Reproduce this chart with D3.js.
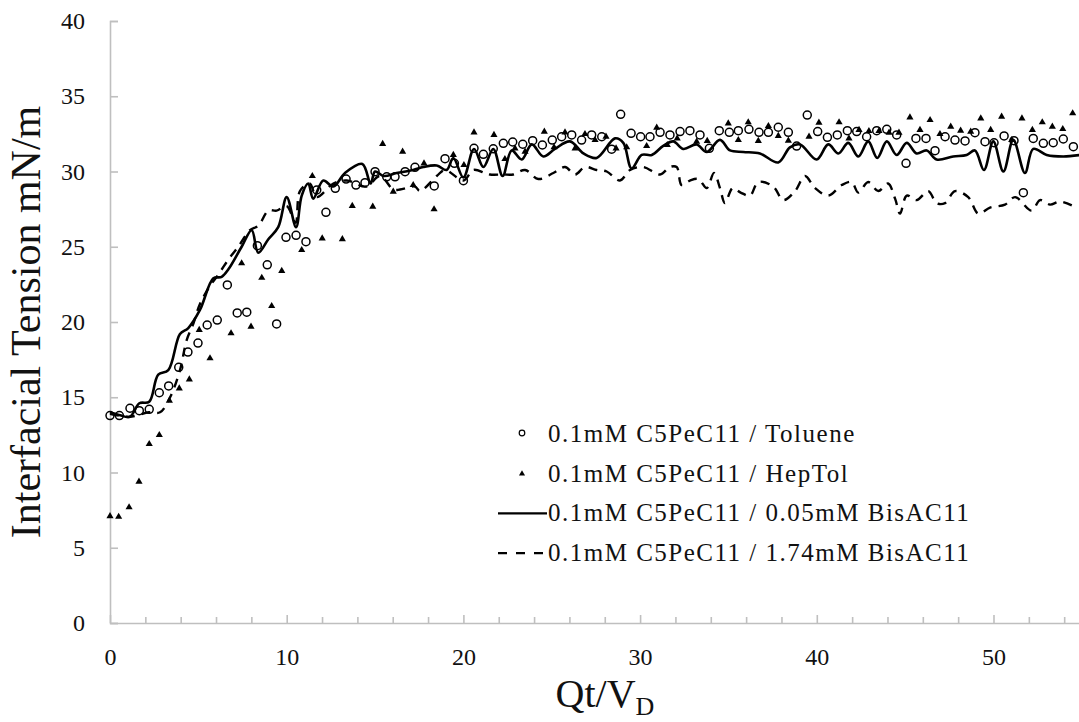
<!DOCTYPE html>
<html>
<head>
<meta charset="utf-8">
<script src="https://cdn.jsdelivr.net/npm/d3@7"></script>
<style>
  html, body { margin: 0; padding: 0; background: #ffffff; }
  #chart { width: 1079px; height: 722px; }
  svg text { font-family: "Liberation Serif", "LiberationSerif", Tinos, "Times New Roman", Times, "Noto Serif", serif; }
</style>
</head>
<body>
<div id="chart"></div>
<script>
'use strict'

// 0.1mM C5PeC11 / Toluene  [Qt/VD, mN/m]
const toluene = [
    [0, 13.78], [0.53, 13.78], [1.13, 14.27], [1.66, 14.11], [2.22, 14.2], [2.79, 15.3], [3.32, 15.75],
    [3.89, 16.99], [4.41, 18.0], [4.98, 18.6], [5.5, 19.8], [6.07, 20.13], [6.64, 22.46], [7.2, 20.6],
    [7.74, 20.65], [8.34, 25.07], [8.9, 23.8], [9.43, 19.87], [9.96, 25.63], [10.53, 25.76], [11.09, 25.34],
    [11.7, 28.77], [12.22, 27.29], [12.75, 28.88], [13.36, 29.5], [13.92, 29.1], [14.43, 29.26], [15.0, 29.99],
    [15.66, 29.65], [16.13, 29.65], [16.7, 29.99], [17.26, 30.28], [18.35, 29.04], [18.96, 30.85], [19.49, 30.54],
    [20.0, 29.39], [20.6, 31.54], [21.13, 31.14], [21.69, 31.51], [22.26, 31.87], [22.79, 31.96], [23.36, 31.81],
    [23.92, 32.05], [24.47, 31.76], [25.03, 32.09], [25.56, 32.31], [26.13, 32.43], [26.69, 32.09], [27.26, 32.43],
    [27.83, 32.31], [28.39, 31.48], [28.9, 33.8], [29.49, 32.54], [30.03, 32.31], [30.56, 32.31], [31.13, 32.6],
    [31.69, 32.43], [32.26, 32.65], [32.82, 32.71], [33.39, 32.43], [33.92, 31.54], [34.48, 32.71], [35.05, 32.6],
    [35.56, 32.71], [36.16, 32.8], [36.73, 32.6], [37.26, 32.6], [37.82, 32.94], [38.39, 32.6], [38.86, 31.69],
    [39.46, 33.75], [40.05, 32.65], [40.6, 32.27], [41.16, 32.43], [41.73, 32.71], [42.26, 32.65], [42.82, 32.31],
    [43.39, 32.71], [43.96, 32.8], [44.52, 32.43], [45.05, 30.54], [45.61, 32.2], [46.18, 32.2], [46.69, 31.38],
    [47.26, 32.31], [47.82, 32.09], [48.39, 32.03], [48.95, 32.58], [49.52, 31.98], [50.03, 31.91], [50.6, 32.36],
    [51.16, 32.05], [51.69, 28.59], [52.25, 32.2], [52.82, 31.87], [53.38, 31.91], [53.95, 32.16], [54.52, 31.65]
]

// 0.1mM C5PeC11 / HepTol
const heptol = [
    [0, 7.1], [0.49, 7.06], [1.08, 7.69], [1.64, 9.39], [2.22, 11.89], [2.79, 12.49], [3.36, 14.77],
    [3.92, 15.59], [4.49, 16.19], [5.05, 19.47], [5.66, 17.59], [6.85, 19.25], [7.45, 23.9], [7.98, 19.69],
    [8.59, 22.94], [9.15, 21.06], [9.72, 23.39], [10.85, 24.78], [11.45, 29.7], [12.01, 25.56], [13.15, 25.5],
    [13.71, 27.71], [14.87, 27.66], [15.43, 31.83], [16.03, 28.66], [16.56, 31.32], [17.16, 29.1], [17.77, 30.54],
    [18.34, 27.49], [19.43, 31.1], [20.03, 30.43], [20.6, 32.6], [21.73, 32.43], [22.35, 30.83], [22.92, 31.54],
    [23.49, 31.32], [24.58, 32.65], [25.13, 31.61], [25.75, 32.6], [26.32, 31.54], [26.88, 32.49], [27.45, 32.09],
    [28.07, 32.31], [28.64, 31.54], [29.24, 31.61], [30.37, 31.69], [30.94, 32.91], [31.54, 31.76], [32.1, 32.2],
    [33.2, 31.98], [33.8, 32.03], [34.99, 33.2], [35.56, 32.09], [36.12, 33.27], [36.69, 32.03], [37.26, 33.02],
    [37.82, 32.36], [38.39, 32.05], [39.56, 32.31], [40.12, 33.24], [41.26, 33.27], [41.82, 32.2], [42.39, 32.76],
    [42.95, 32.69], [43.52, 32.69], [44.09, 32.58], [44.65, 32.58], [45.27, 33.6], [45.84, 32.76], [46.41, 33.42],
    [46.97, 32.49], [47.58, 32.98], [48.14, 32.71], [48.71, 32.65], [49.28, 33.53], [49.84, 32.76], [50.46, 33.64],
    [51.03, 32.09], [51.61, 33.53], [52.2, 32.76], [52.76, 33.27], [53.33, 32.98], [53.92, 32.82], [54.48, 33.87]
]

// 0.1mM C5PeC11 / 0.05mM BisAC11 (solid)
const bis005 = [
    [0, 14.0], [0.57, 13.8], [1.13, 13.7], [1.66, 14.6], [2.22, 14.7], [2.73, 16.5], [3.3, 16.8], [3.96, 19.2],
    [4.43, 19.6], [5.09, 20.8], [5.85, 22.9], [6.32, 23.0], [6.7, 23.5], [7.45, 25.0], [8.02, 26.1], [8.39, 24.6],
    [8.96, 25.5], [9.52, 26.3], [10.0, 28.3], [10.53, 26.3], [10.85, 28.4], [11.22, 29.2], [11.5, 28.2],
    [12.07, 29.4], [12.64, 29.0], [13.3, 29.9], [14.28, 30.5], [14.75, 29.2], [15.0, 30.0], [15.5, 29.7],
    [16.22, 29.9], [17.16, 30.1], [17.73, 30.3], [18.49, 30.4], [19.05, 30.1], [19.43, 30.9], [20.0, 29.6],
    [20.6, 31.5], [21.13, 30.3], [21.69, 31.5], [22.22, 29.7], [22.73, 31.4], [23.3, 30.8], [23.87, 31.8],
    [24.52, 31.0], [25.18, 31.5], [26.03, 32.0], [26.79, 31.2], [27.54, 30.9], [28.58, 32.2], [29.05, 31.9],
    [29.52, 30.2], [30.09, 31.1], [30.66, 31.1], [31.31, 31.7], [31.88, 32.0], [32.45, 31.5], [33.2, 31.8],
    [33.77, 31.3], [34.52, 32.1], [35.09, 31.4], [35.84, 31.3], [36.78, 31.2], [37.82, 30.6], [38.48, 31.6],
    [39.05, 31.8], [39.99, 30.8], [40.65, 31.8], [41.22, 31.2], [41.78, 31.9], [42.35, 31.0], [42.91, 32.0],
    [43.42, 30.9], [43.96, 32.0], [44.52, 31.1], [45.09, 31.9], [45.65, 31.2], [46.22, 31.4], [46.78, 30.8],
    [47.72, 31.0], [48.48, 31.1], [48.95, 31.4], [49.46, 30.1], [49.99, 32.0], [50.56, 30.0], [51.12, 32.1],
    [51.78, 29.9], [52.25, 31.5], [53.01, 31.1], [53.95, 31.0], [54.9, 31.1]
]

// 0.1mM C5PeC11 / 1.74mM BisAC11 (dashed)
const bis174 = [
    [0, 13.9], [1.1, 13.7], [2.2, 14.0], [2.83, 14.0], [3.4, 15.0], [3.96, 16.8], [4.34, 18.8], [4.72, 19.9],
    [5.09, 21.2], [5.66, 22.4], [6.04, 23.0], [6.79, 24.3], [7.26, 25.0], [7.92, 26.1], [8.4, 26.4], [8.96, 27.4],
    [9.43, 27.4], [10.0, 27.7], [10.5, 26.6], [10.75, 28.7], [11.3, 29.2], [11.7, 28.3], [12.64, 29.2],
    [13.4, 29.4], [14.5, 29.0], [15.28, 29.7], [16.03, 28.8], [16.41, 28.8], [17.26, 29.0], [17.54, 28.7],
    [18.49, 29.7], [18.96, 30.1], [20.0, 29.4], [20.56, 30.1], [21.22, 29.9], [21.5, 29.8], [22.26, 29.8],
    [22.82, 29.8], [23.49, 30.1], [24.24, 29.5], [25.09, 29.9], [25.75, 30.3], [26.32, 29.8], [26.88, 30.3],
    [27.54, 30.1], [28.11, 30.0], [28.86, 29.4], [29.43, 30.1], [30.18, 30.3], [31.13, 29.8], [31.69, 30.3],
    [32.07, 30.3], [32.35, 29.1], [32.82, 29.4], [33.3, 29.5], [33.77, 28.9], [34.18, 29.9], [34.52, 28.9],
    [34.8, 27.9], [35.24, 28.9], [35.69, 28.6], [36.22, 28.4], [36.69, 29.3], [37.54, 29.0], [38.1, 28.1],
    [38.77, 28.7], [39.33, 29.7], [39.9, 28.9], [40.65, 28.4], [41.41, 29.1], [41.97, 29.3], [42.35, 28.6],
    [42.91, 29.3], [43.48, 28.7], [44.03, 29.2], [44.43, 28.2], [44.71, 27.2], [45.09, 28.4], [45.65, 28.1],
    [46.31, 28.7], [46.78, 27.9], [47.26, 27.9], [47.82, 28.7], [48.57, 28.3], [49.14, 27.2], [49.8, 27.6],
    [50.65, 27.8], [51.22, 28.3], [52.16, 27.4], [52.63, 28.1], [53.2, 27.8], [53.76, 28.0], [54.52, 27.7]
]

const legend_labels = [
    "0.1mM C5PeC11 / Toluene",
    "0.1mM C5PeC11 / HepTol",
    "0.1mM C5PeC11 / 0.05mM BisAC11",
    "0.1mM C5PeC11 / 1.74mM BisAC11"
]

const x_ticks = d3.range(0, 55, 2)
const x_labels = [0, 10, 20, 30, 40, 50]
const y_ticks = [0, 5, 10, 15, 20, 25, 30, 35, 40]

////////////////////////////////////
//////////// svg setup /////////////
////////////////////////////////////

const svgWidth = 1079
const svgHeight = 722
const axis_color = '#bfbfbf'

const svg = d3.select('#chart')
    .append('svg')
    .attr('width', svgWidth)
    .attr('height', svgHeight)
    .style('background', '#ffffff')

////////////////////////////////////
//////////// Scales ////////////////
////////////////////////////////////

const x = d3.scaleLinear().domain([0, 55]).range([110, 110 + 55 * 17.67])
const y = d3.scaleLinear().domain([0, 40]).range([623, 21])

////////////////////////////////////
//////////// axis //////////////////
////////////////////////////////////

const yAxis = svg.append('g')
    .attr('transform', `translate(${x(0)},0)`)
    .call(d3.axisLeft(y).tickValues(y_ticks).tickSize(-8).tickPadding(25))

const xAxis = svg.append('g')
    .attr('transform', `translate(0,${y(0)})`)
    .call(d3.axisBottom(x).tickValues(x_ticks).tickSize(-6).tickSizeOuter(0).tickPadding(25)
        .tickFormat(d => x_labels.includes(d) ? d : ''))

xAxis.selectAll('.tick line')
    .attr('y2', d => d % 10 === 0 ? -8 : -6)

svg.selectAll('.domain, .tick line')
    .attr('stroke', axis_color)
    .attr('stroke-width', 1.6)

svg.selectAll('.tick text')
    .attr('fill', '#111')
    .attr('font-family', null)
    .style('font-size', '24px')

// axis titles
svg.append('text')
    .attr('transform', `translate(40,${(y(0) + y(40)) / 2}) rotate(-90)`)
    .attr('text-anchor', 'middle')
    .attr('fill', '#111')
    .style('font-size', '42px')
    .text('Interfacial Tension mN/m')

const xt = svg.append('text')
    .attr('x', 605)
    .attr('y', 707)
    .attr('text-anchor', 'middle')
    .attr('fill', '#111')
    .style('font-size', '40px')
xt.append('tspan').text('Qt/V')
xt.append('tspan').attr('dy', 8).style('font-size', '26px').text('D')

////////////////////////////////////
//////////// add to DOM ////////////
////////////////////////////////////

const line = d3.line()
    .x(d => x(d[0]))
    .y(d => y(d[1]))
    .curve(d3.curveCatmullRom.alpha(0.5))

svg.append('path')
    .datum(bis174)
    .attr('fill', 'none')
    .attr('stroke', '#000')
    .attr('stroke-width', 2.4)
    .attr('stroke-dasharray', '9,7')
    .attr('d', line)

svg.append('path')
    .datum(bis005)
    .attr('fill', 'none')
    .attr('stroke', '#000')
    .attr('stroke-width', 2.6)
    .attr('d', line)

svg.selectAll('.tol')
    .data(toluene)
    .join('circle')
    .attr('class', 'tol')
    .attr('cx', d => x(d[0]))
    .attr('cy', d => y(d[1]))
    .attr('r', 4)
    .attr('fill', 'none')
    .attr('stroke', '#000')
    .attr('stroke-width', 1.5)

const tri = d3.symbol().type(d3.symbolTriangle).size(22)

svg.selectAll('.hep')
    .data(heptol)
    .join('path')
    .attr('class', 'hep')
    .attr('transform', d => `translate(${x(d[0])},${y(d[1])})`)
    .attr('d', tri)
    .attr('fill', '#000')

////////////////////////////////////
//////////// legend ////////////////
////////////////////////////////////

const legend = svg.append('g')
const rowY = i => 442 + i * 39.7

legend.selectAll('.leg_text')
    .data(legend_labels)
    .join('text')
    .attr('class', 'leg_text')
    .attr('x', 548)
    .attr('y', (d, i) => rowY(i))
    .attr('fill', '#111')
    .style('font-size', '25px')
    .style('letter-spacing', '1.5px')
    .text(d => d)

legend.append('circle')
    .attr('cx', 522)
    .attr('cy', rowY(0) - 9)
    .attr('r', 2.8)
    .attr('fill', 'none')
    .attr('stroke', '#000')
    .attr('stroke-width', 1.2)

legend.append('path')
    .attr('transform', `translate(522,${rowY(1) - 8})`)
    .attr('d', d3.symbol().type(d3.symbolTriangle).size(16))
    .attr('fill', '#000')

legend.append('line')
    .attr('x1', 498).attr('x2', 547)
    .attr('y1', rowY(2) - 8).attr('y2', rowY(2) - 8)
    .attr('stroke', '#000')
    .attr('stroke-width', 2.4)

legend.append('line')
    .attr('x1', 498).attr('x2', 547)
    .attr('y1', rowY(3) - 8).attr('y2', rowY(3) - 8)
    .attr('stroke', '#000')
    .attr('stroke-width', 2.2)
    .attr('stroke-dasharray', '9,9')
</script>
</body>
</html>
